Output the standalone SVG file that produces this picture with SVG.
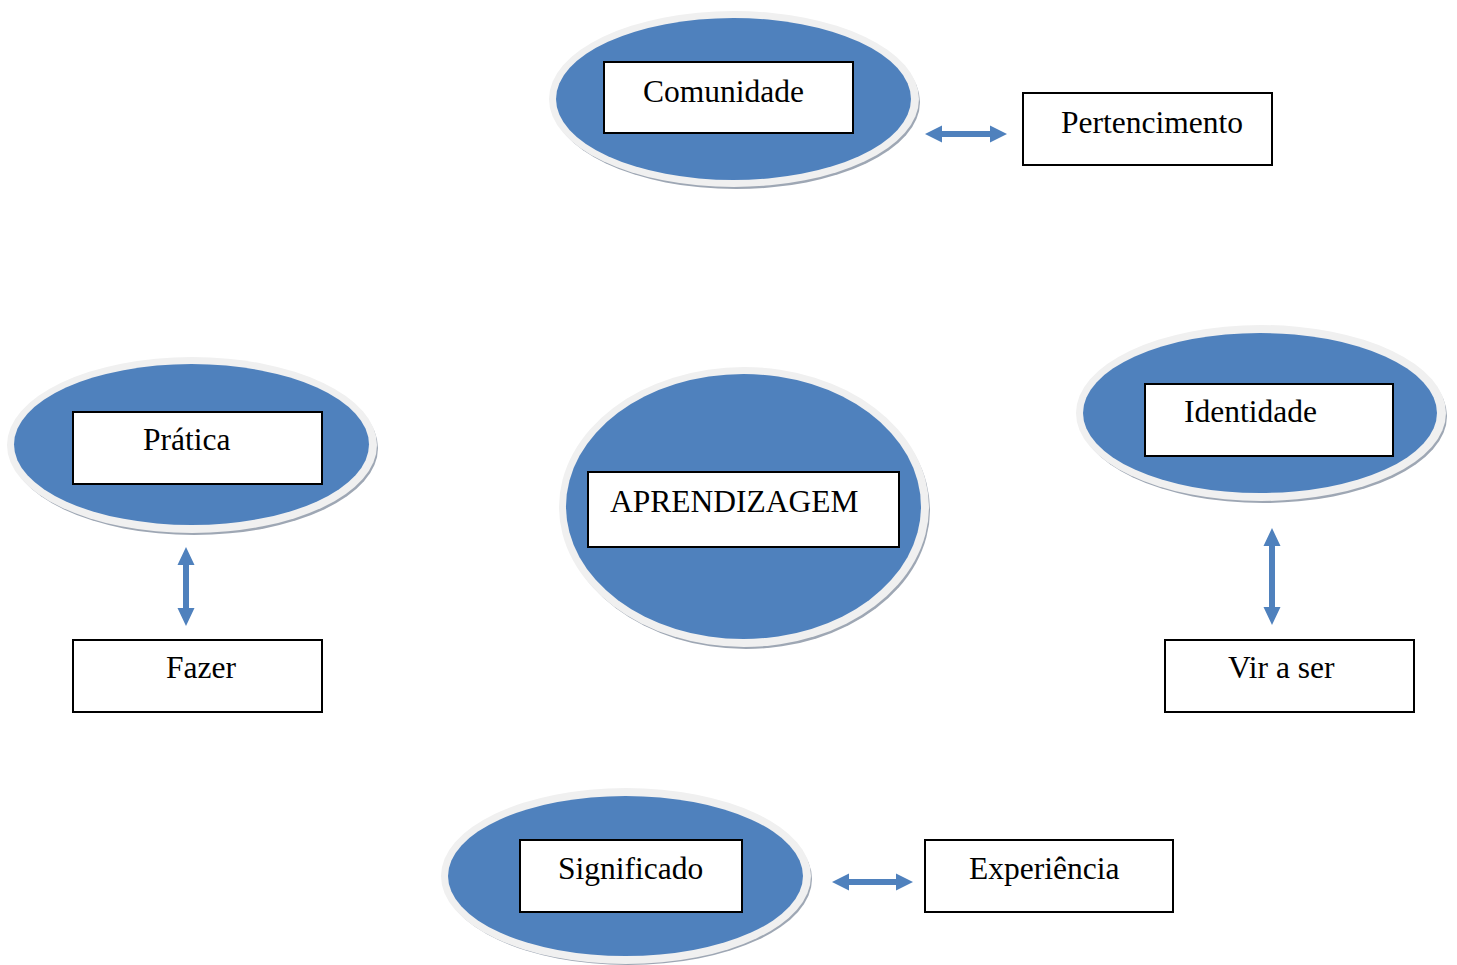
<svg xmlns="http://www.w3.org/2000/svg" width="1457" height="965" viewBox="0 0 1457 965">
<style>
.shadow{fill:#9ea7b4}
.rim{fill:#f0f0f0}
.blue{fill:#4f81bd}
.box{fill:#fff;stroke:#000;stroke-width:2}
.lbl{font-family:"Liberation Serif","Times New Roman",serif;font-size:31.5px;fill:#000}
.arr{fill:#4f81bd}
</style>
<rect width="1457" height="965" fill="#fff"/>
<g id="comunidade">
<ellipse class="shadow" cx="736" cy="102" rx="184" ry="87"/>
<ellipse class="rim" cx="734" cy="99" rx="185" ry="88"/>
<ellipse class="blue" cx="733.5" cy="99" rx="177.5" ry="81"/>
<rect class="box" x="604" y="62" width="249" height="71"/>
<text class="lbl" x="643" y="102">Comunidade</text>
</g>
<g id="pertencimento">
<rect class="box" x="1023" y="93" width="249" height="72"/>
<text class="lbl" x="1061" y="133">Pertencimento</text>
</g>
<g id="pratica">
<ellipse class="shadow" cx="194" cy="448" rx="184" ry="87"/>
<ellipse class="rim" cx="192" cy="445" rx="185" ry="88"/>
<ellipse class="blue" cx="191.5" cy="444.5" rx="177.5" ry="80.5"/>
<rect class="box" x="73" y="412" width="249" height="72"/>
<text class="lbl" x="143" y="450">Prática</text>
</g>
<g id="fazer">
<rect class="box" x="73" y="640" width="249" height="72"/>
<text class="lbl" x="166" y="678">Fazer</text>
</g>
<g id="aprendizagem">
<ellipse class="shadow" cx="746" cy="510" rx="184" ry="139"/>
<ellipse class="rim" cx="744" cy="507" rx="185" ry="140"/>
<ellipse class="blue" cx="743.5" cy="506.5" rx="177.5" ry="132.5"/>
<rect class="box" x="588" y="472" width="311" height="75"/>
<text class="lbl" x="610" y="512">APRENDIZAGEM</text>
</g>
<g id="identidade">
<ellipse class="shadow" cx="1263" cy="416" rx="184" ry="87"/>
<ellipse class="rim" cx="1261" cy="413" rx="185" ry="88"/>
<ellipse class="blue" cx="1260" cy="413" rx="177" ry="80"/>
<rect class="box" x="1145" y="384" width="248" height="72"/>
<text class="lbl" x="1184" y="422">Identidade</text>
</g>
<g id="viraser">
<rect class="box" x="1165" y="640" width="249" height="72"/>
<text class="lbl" x="1228" y="678">Vir a ser</text>
</g>
<g id="significado">
<ellipse class="shadow" cx="628" cy="879" rx="184" ry="86"/>
<ellipse class="rim" cx="626" cy="876" rx="185" ry="88"/>
<ellipse class="blue" cx="625.5" cy="876" rx="177.5" ry="80"/>
<rect class="box" x="520" y="840" width="222" height="72"/>
<text class="lbl" x="558" y="879">Significado</text>
</g>
<g id="experiencia">
<rect class="box" x="925" y="840" width="248" height="72"/>
<text class="lbl" x="969" y="879">Experiência</text>
</g>
<g id="connectors">
<path class="arr" d="M925,134 L942,125.5 L942,131 L990,131 L990,125.5 L1007,134 L990,142.5 L990,137 L942,137 L942,142.5 Z"/>
<path class="arr" d="M832,882 L849,873.5 L849,879 L896,879 L896,873.5 L913,882 L896,890.5 L896,885 L849,885 L849,890.5 Z"/>
<path class="arr" d="M186,547 L194.5,565 L189,565 L189,608 L194.5,608 L186,626 L177.5,608 L183,608 L183,565 L177.5,565 Z"/>
<path class="arr" d="M1272,528 L1280.5,546 L1275,546 L1275,607 L1280.5,607 L1272,625 L1263.5,607 L1269,607 L1269,546 L1263.5,546 Z"/>
</g>
</svg>
